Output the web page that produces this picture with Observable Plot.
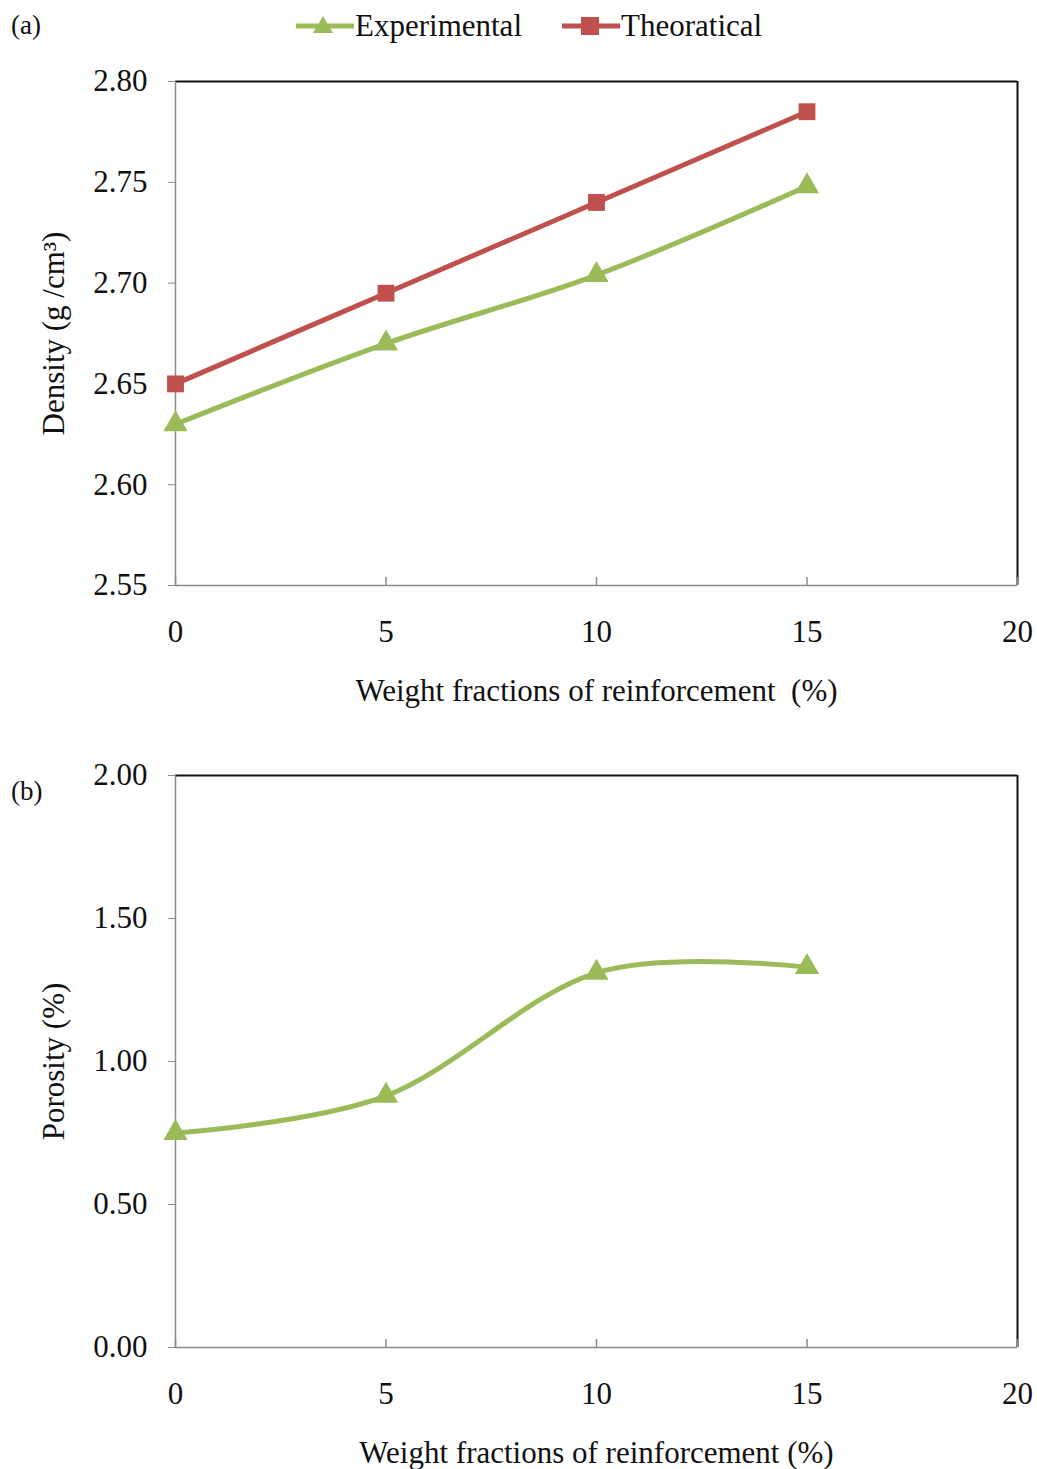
<!DOCTYPE html>
<html>
<head>
<meta charset="utf-8">
<script src="https://cdn.jsdelivr.net/npm/d3@7"></script>
<script src="https://cdn.jsdelivr.net/npm/@observablehq/plot@0.6"></script>
<style>
  html, body { margin: 0; padding: 0; background: #fff; }
  body { width: 1037px; font-family: "Liberation Serif", "Times New Roman", serif; color: #111; }
  #wrap { position: relative; width: 1037px; }
  #legend { position: relative; height: 50px; font-size: 31px; }
  .lab { position: absolute; font-size: 27px; }
  .item { position: absolute; top: 8px; display: flex; align-items: center; }
  .item svg { display: block; }
  #p2 { position: relative; }
</style>
</head>
<body>
<div id="wrap">
  <div id="legend">
    <div class="lab" style="left:11px; top:10px;">(a)</div>
    <div class="item" style="left:296px;">
      <svg width="58" height="36"><line x1="0" y1="18" x2="58" y2="18" stroke="#9BBB59" stroke-width="5"/><path d="M27,8 L37,25 L17,25 Z" fill="#9BBB59"/></svg>
      <span style="margin-left:1px">Experimental</span>
    </div>
    <div class="item" style="left:562px;">
      <svg width="58" height="36"><line x1="0" y1="18" x2="58" y2="18" stroke="#C0504D" stroke-width="5"/><rect x="19" y="9" width="18" height="18" fill="#C0504D"/></svg>
      <span style="margin-left:1px">Theoratical</span>
    </div>
  </div>
  <div id="p1"></div>
  <div id="p2"><div class="lab" style="left:11px; top:46px;">(b)</div></div>
</div>
<script>
// ---- data ----
const weights = [0, 5, 10, 15];
const densityExperimental = [2.63, 2.67, 2.704, 2.748];
const densityTheoretical = [2.65, 2.695, 2.74, 2.785];
const porosity = [0.75, 0.88, 1.31, 1.33];
const xTicks = [0, 5, 10, 15, 20];
const densityTicks = [2.55, 2.60, 2.65, 2.70, 2.75, 2.80];
const porosityTicks = [0.00, 0.50, 1.00, 1.50, 2.00];
const seriesNames = ["Experimental", "Theoratical"];
const colors = ["#9BBB59", "#C0504D"];

const expRows = weights.map((w, i) => ({w, v: densityExperimental[i]}));
const theoRows = weights.map((w, i) => ({w, v: densityTheoretical[i]}));
const poroRows = weights.map((w, i) => ({w, v: porosity[i]}));

const font = {fontFamily: "Liberation Serif, Times New Roman, serif", fontSize: "30px", color: "#111", background: "transparent"};

function panel({height, marginTop, marginBottom, yDomain, yTicks, yLabel, xLabel, marks}) {
  const plotH = height - marginTop - marginBottom;
  return Plot.plot({
    width: 1037,
    height,
    marginLeft: 175,
    marginRight: 20,
    marginTop,
    marginBottom,
    style: font,
    x: {domain: [xTicks[0], xTicks[xTicks.length - 1]]},
    y: {domain: yDomain},
    marks: [
      Plot.ruleY([yDomain[1]], {stroke: "#111", strokeWidth: 2}),
      Plot.ruleX([xTicks[xTicks.length - 1]], {stroke: "#111", strokeWidth: 2}),
      Plot.ruleX([xTicks[0]], {stroke: "#8a8a8a", strokeWidth: 1.5}),
      Plot.ruleY([yDomain[0]], {stroke: "#8a8a8a", strokeWidth: 1.5}),
      Plot.tickX(xTicks, {x: d => d, stroke: "#8a8a8a", strokeWidth: 1.5, insetTop: plotH - 8}),
      Plot.axisY({ticks: yTicks, tickFormat: d3.format(".2f"), tickSize: 7, tickPadding: 21, stroke: "#8a8a8a",
                  fontSize: 31, label: yLabel, labelAnchor: "center", labelOffset: 134, labelArrow: "none"}),
      Plot.axisX({ticks: xTicks, tickFormat: d3.format("d"), tickSize: 0, tickPadding: 34, stroke: "#8a8a8a",
                  fontSize: 31, label: null}),
      Plot.text([xLabel], {frameAnchor: "bottom", text: d => d, fontSize: 31, dy: 115, fill: "#111"}),
      ...marks
    ]
  });
}

const p1 = panel({
  height: 680, marginTop: 31, marginBottom: 145,
  yDomain: [densityTicks[0], densityTicks[densityTicks.length - 1]], yTicks: densityTicks,
  yLabel: "Density (g /cm³)", xLabel: "Weight fractions of reinforcement \u00a0(%)",
  marks: [
    Plot.line(expRows, {x: "w", y: "v", stroke: colors[0], strokeWidth: 5, curve: "cardinal"}),
    Plot.line(theoRows, {x: "w", y: "v", stroke: colors[1], strokeWidth: 5, curve: "cardinal"}),
    Plot.dot(expRows, {x: "w", y: "v", symbol: "triangle", fill: colors[0], r: 9}),
    Plot.dot(theoRows, {x: "w", y: "v", symbol: "square", fill: colors[1], r: 9.5})
  ]
});
document.getElementById("p1").appendChild(p1);

const p2 = panel({
  height: 739, marginTop: 45, marginBottom: 122,
  yDomain: [porosityTicks[0], porosityTicks[porosityTicks.length - 1]], yTicks: porosityTicks,
  yLabel: "Porosity (%)", xLabel: "Weight fractions of reinforcement (%)",
  marks: [
    Plot.line(poroRows, {x: "w", y: "v", stroke: colors[0], strokeWidth: 5, curve: "cardinal"}),
    Plot.dot(poroRows, {x: "w", y: "v", symbol: "triangle", fill: colors[0], r: 9})
  ]
});
document.getElementById("p2").appendChild(p2);
</script>
</body>
</html>
